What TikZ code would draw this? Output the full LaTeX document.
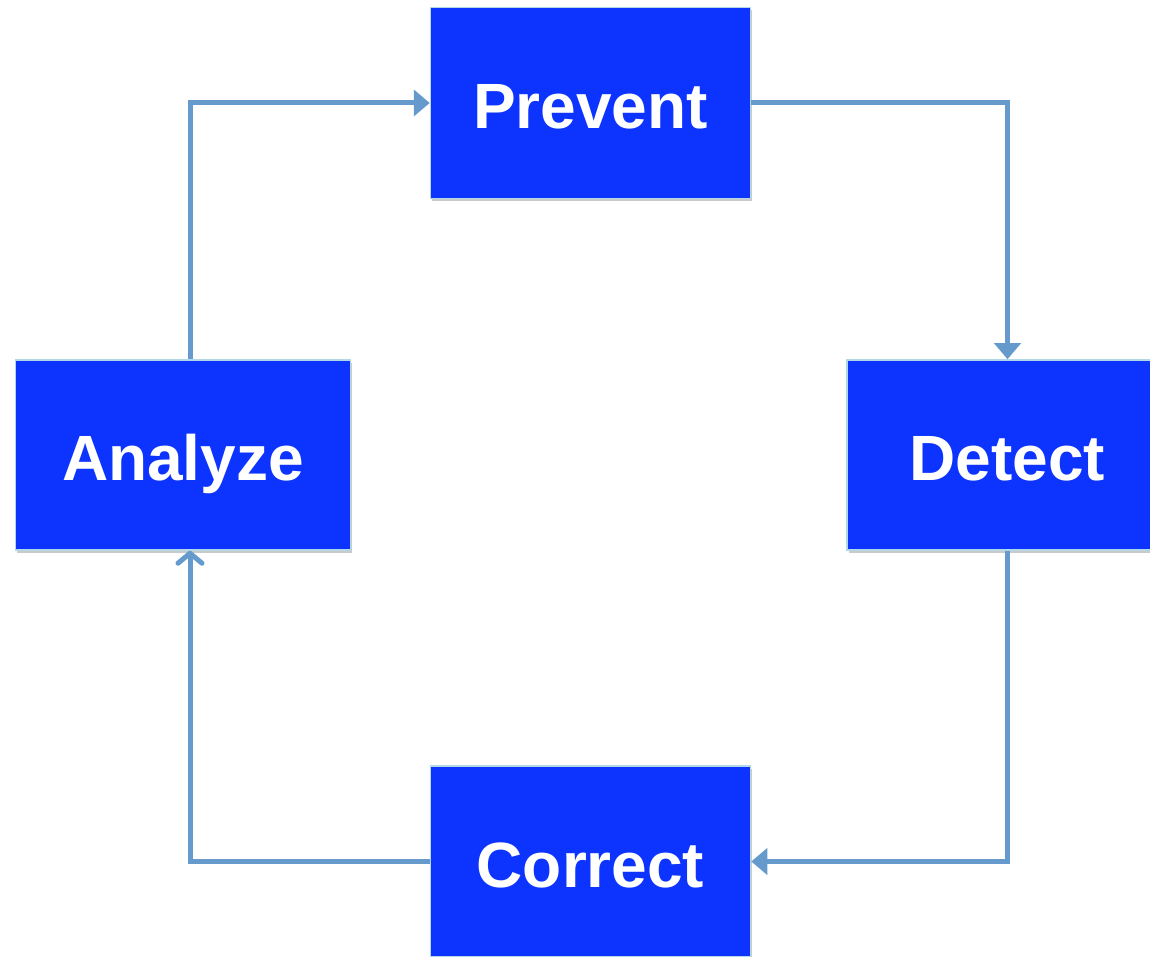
\documentclass[tikz,border=0pt]{standalone}
\usepackage{fontspec}
\setmainfont{Liberation Sans}
\usetikzlibrary{arrows.meta,shadows}
\definecolor{boxblue}{RGB}{13,51,255}
\definecolor{boxedge}{RGB}{176,216,230}
\definecolor{linkblue}{RGB}{102,153,204}
\tikzset{
  stagebox/.style={draw=boxedge, line width=1.5pt, fill=boxblue, text=white,
    font=\bfseries\fontsize{64}{64}\selectfont, inner sep=0pt,
    text height=52pt, text depth=0pt,
    drop shadow={shadow xshift=1.5pt, shadow yshift=-3pt, opacity=0.35, fill=black!60}},
  conn/.style={draw=linkblue, line width=5pt, line join=miter,
    -{Triangle[length=16pt,width=26pt]}},
  connopen/.style={draw=linkblue, line width=5pt,
    -{Straight Barb[length=10pt,width=24pt,line cap=round,line join=round]}}
}
\begin{document}
\begin{tikzpicture}[x=1pt,y=1pt]
\useasboundingbox (0,0) rectangle (1150,957);
\clip (0,0) rectangle (1150,957);
\node[stagebox, minimum width=320pt, minimum height=191pt] (Prevent) at (590.5,854) {Prevent};
\node[stagebox, minimum width=335pt, minimum height=190pt] (Analyze) at (183,502) {Analyze};
\node[stagebox, minimum width=321pt, minimum height=190pt] (Detect) at (1007.5,502) {Detect};
\node[stagebox, minimum width=320pt, minimum height=191pt] (Correct) at (590.5,95.5) {Correct};
\draw[conn] ([xshift=7pt]Analyze.north) |- (Prevent.west);
\draw[conn] (Prevent.east) -| (Detect.north);
\draw[conn] (Detect.south) |- (Correct.east);
\draw[connopen] (Correct.west) -| ([xshift=7pt]Analyze.south);
\end{tikzpicture}
\end{document}
